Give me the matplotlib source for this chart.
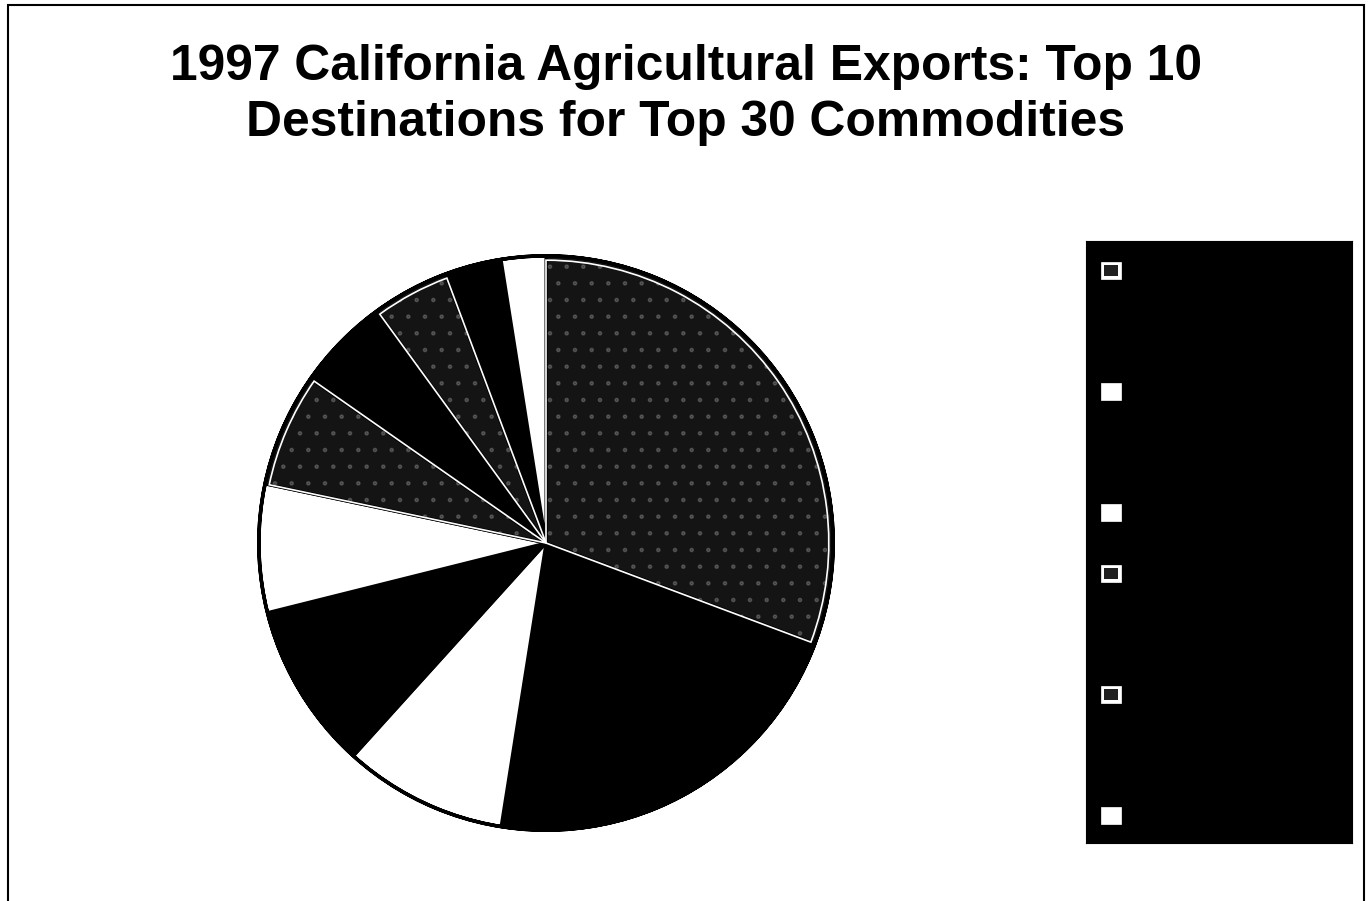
import matplotlib
matplotlib.use("Agg")
import matplotlib.pyplot as plt
from matplotlib.patches import Rectangle, Wedge

# Top 10 destinations, share of export value (%)
destinations = ["European Union", "Canada", "Japan", "Hong Kong", "South Korea",
                "Taiwan", "Mexico", "China", "Indonesia", "Philippines"]
shares = [30.7, 21.8, 9.2, 9.4, 7.2, 6.4, 5.3, 4.3, 3.2, 2.5]
fills = ["stipple", "black", "white", "black", "white",
         "stipple", "black", "stipple", "black", "white"]

title = "1997 California Agricultural Exports: Top 10\nDestinations for Top 30 Commodities"

FACE = {"stipple": "#141414", "black": "#000000", "white": "#ffffff"}

plt.rcParams["font.family"] = ["Liberation Sans", "DejaVu Sans"]
plt.rcParams["hatch.linewidth"] = 1.0

W, H = 1372, 901
fig = plt.figure(figsize=(W / 100, H / 100), dpi=100)
fig.patch.set_facecolor("white")


def px(x, y, w, h):
    return [x / W, 1 - (y + h) / H, w / W, h / H]


# outer frame
fig.patches.append(Rectangle((8 / W, -0.01), (1364 - 8) / W, 1 - 5 / H + 0.01,
                             transform=fig.transFigure, fill=False,
                             edgecolor="black", linewidth=1.5))

fig.text(0.5, 1 - 95 / H, title, ha="center", va="center", fontsize=35.8,
         fontweight="bold", linespacing=1.26)

# pie
ax = fig.add_axes(px(256, 253, 580, 580))
wedges, _ = ax.pie(shares, startangle=90, counterclock=False, radius=1,
                   colors=[FACE[f] for f in fills],
                   wedgeprops=dict(edgecolor="black", linewidth=2.2))
for w, f in zip(wedges, fills):
    if f == "stipple":
        # faint speckle plus the thin light rim these slices carry
        ax.add_patch(Wedge((0, 0), 0.985, w.theta1, w.theta2, facecolor="none",
                           edgecolor="white", linewidth=0, hatch=".",
                           alpha=0.18))
        ax.add_patch(Wedge((0, 0), 0.985, w.theta1, w.theta2, facecolor="none",
                           edgecolor="white", linewidth=1.2))
ax.add_patch(Wedge((0, 0), 1, 0, 360, width=0.0, facecolor="none",
                   edgecolor="black", linewidth=2.5))
ax.set_xlim(-1.01, 1.01)
ax.set_ylim(-1.01, 1.01)
ax.set_aspect("equal")
ax.axis("off")

# legend block
lg = fig.add_axes(px(1086, 241, 266, 602))
lg.set_facecolor("black")
lg.set_xlim(0, 266)
lg.set_ylim(602, 0)
lg.set_xticks([])
lg.set_yticks([])
for s in lg.spines.values():
    s.set_color("black")
for i, (name, f) in enumerate(zip(destinations, fills)):
    yc = 29 + i * 60.5
    sw_face = "white" if f != "black" else "black"
    lg.add_patch(Rectangle((15, yc - 8), 20, 17, facecolor=sw_face,
                           edgecolor=sw_face, linewidth=0.5))
    if f == "stipple":
        lg.add_patch(Rectangle((18, yc - 5), 14, 11, facecolor="#202020",
                               edgecolor="none"))
    lg.text(45, yc, name, color="black", fontsize=14, va="center", ha="left")

fig.savefig("out.png", dpi=100, facecolor="white")
